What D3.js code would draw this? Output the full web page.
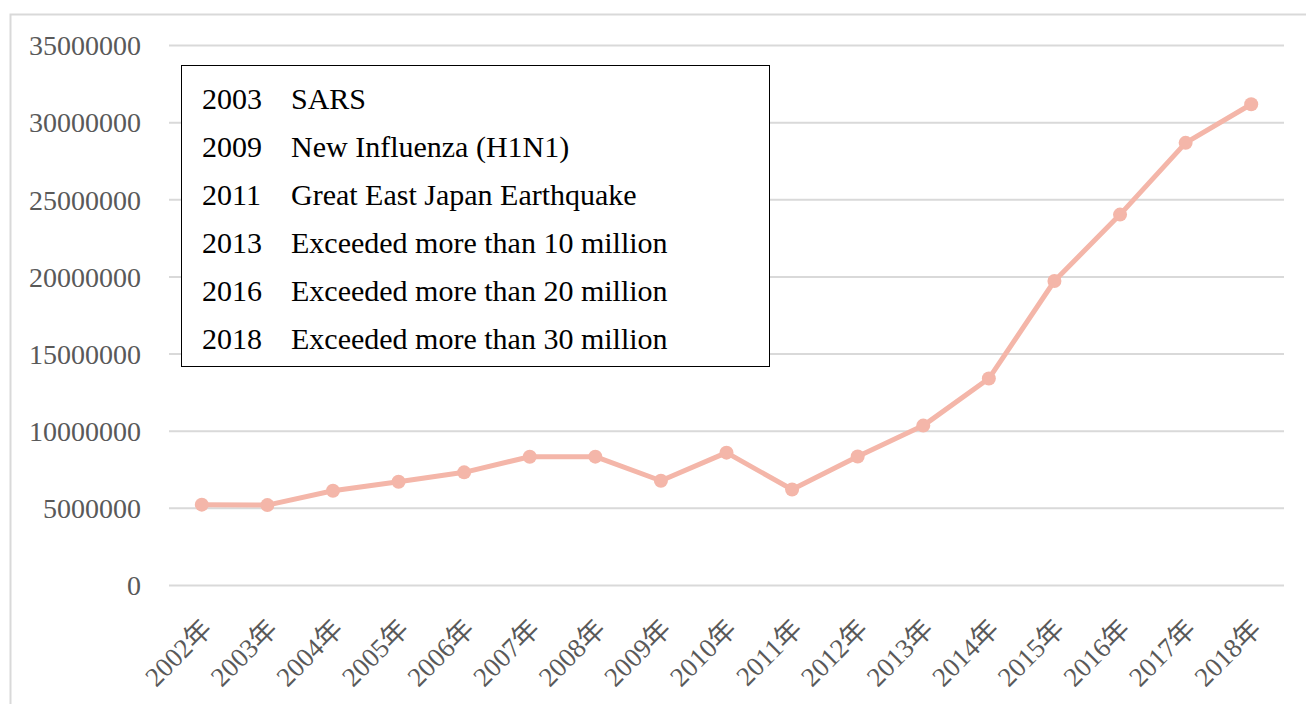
<!DOCTYPE html>
<meta charset="utf-8">
<style>
body {
  margin: 0;
  background: #fff;
  font-family: "Liberation Serif", "Noto Sans CJK JP", serif;
}
.grid line {
  stroke: #d9d9d9;
  stroke-width: 2;
}
.ylab, .xlab {
  fill: #595959;
}
</style>
<body>
<script src="https://cdn.jsdelivr.net/npm/d3@7"></script>
<script>

var years = ["2002年", "2003年", "2004年", "2005年", "2006年", "2007年", "2008年", "2009年",
  "2010年", "2011年", "2012年", "2013年", "2014年", "2015年", "2016年", "2017年", "2018年"];

var visitors = [5239000, 5212000, 6138000, 6728000, 7334000, 8347000, 8351000, 6790000,
  8611000, 6219000, 8358000, 10364000, 13413000, 19737000, 24040000, 28691000, 31192000];

var yTicks = [0, 5000000, 10000000, 15000000, 20000000, 25000000, 30000000, 35000000];

var noteYears = ["2003", "2009", "2011", "2013", "2016", "2018"];
var noteTexts = ["SARS", "New Influenza (H1N1)", "Great East Japan Earthquake",
  "Exceeded more than 10 million", "Exceeded more than 20 million", "Exceeded more than 30 million"];

var width = 1306,
    height = 704;

var svg = d3.select("body").append("svg")
    .attr("width", width)
    .attr("height", height);

// outer chart frame
svg.append("rect")
    .attr("x", 10.5)
    .attr("y", 14.5)
    .attr("width", 1320)
    .attr("height", 720)
    .style("fill", "none")
    .style("stroke", "#d9d9d9")
    .style("stroke-width", 2);

var x = d3.scalePoint()
    .domain(years)
    .range([169, 1284])
    .padding(0.5);

var y = d3.scaleLinear()
    .domain([0, 35000000])
    .range([585.5, 45.5]);

var grid = svg.append("g").attr("class", "grid");
grid.selectAll("line")
    .data(yTicks)
  .enter().append("line")
    .attr("x1", 169)
    .attr("x2", 1284)
    .attr("y1", function(d) { return y(d); })
    .attr("y2", function(d) { return y(d); });

svg.selectAll(".ylab")
    .data(yTicks)
  .enter().append("text")
    .attr("class", "ylab")
    .attr("x", 141)
    .attr("y", function(d) { return y(d); })
    .attr("dy", "0.35em")
    .attr("text-anchor", "end")
    .style("font-size", "28px")
    .text(function(d) { return d; });

svg.selectAll(".xlab")
    .data(years)
  .enter().append("text")
    .attr("class", "xlab")
    .attr("text-anchor", "end")
    .attr("transform", function(d) { return "translate(" + (x(d) + 5) + ",624)rotate(-45)"; })
    .attr("dy", "0.35em")
    .style("font-size", "27px")
    .text(function(d) { return d; });

var line = d3.line()
    .x(function(d, i) { return x(years[i]); })
    .y(function(d) { return y(d); });

svg.append("path")
    .datum(visitors)
    .attr("d", line)
    .style("fill", "none")
    .style("stroke", "#f4b6a9")
    .style("stroke-width", 5)
    .style("stroke-linejoin", "round");

svg.selectAll(".point")
    .data(visitors)
  .enter().append("circle")
    .attr("class", "point")
    .attr("cx", function(d, i) { return x(years[i]); })
    .attr("cy", function(d) { return y(d); })
    .attr("r", 7)
    .style("fill", "#f4b6a9");

// notes box
var box = svg.append("g");
box.append("rect")
    .attr("x", 181.5)
    .attr("y", 65.5)
    .attr("width", 588)
    .attr("height", 301)
    .style("fill", "#fff")
    .style("stroke", "#000")
    .style("stroke-width", 1);

box.selectAll(".ny")
    .data(noteYears)
  .enter().append("text")
    .attr("x", 202)
    .attr("y", function(d, i) { return 98 + i * 48; })
    .attr("dy", "0.35em")
    .style("font-size", "30px")
    .text(function(d) { return d; });

box.selectAll(".nt")
    .data(noteTexts)
  .enter().append("text")
    .attr("x", 291)
    .attr("y", function(d, i) { return 98 + i * 48; })
    .attr("dy", "0.35em")
    .style("font-size", "30px")
    .text(function(d) { return d; });

</script>
